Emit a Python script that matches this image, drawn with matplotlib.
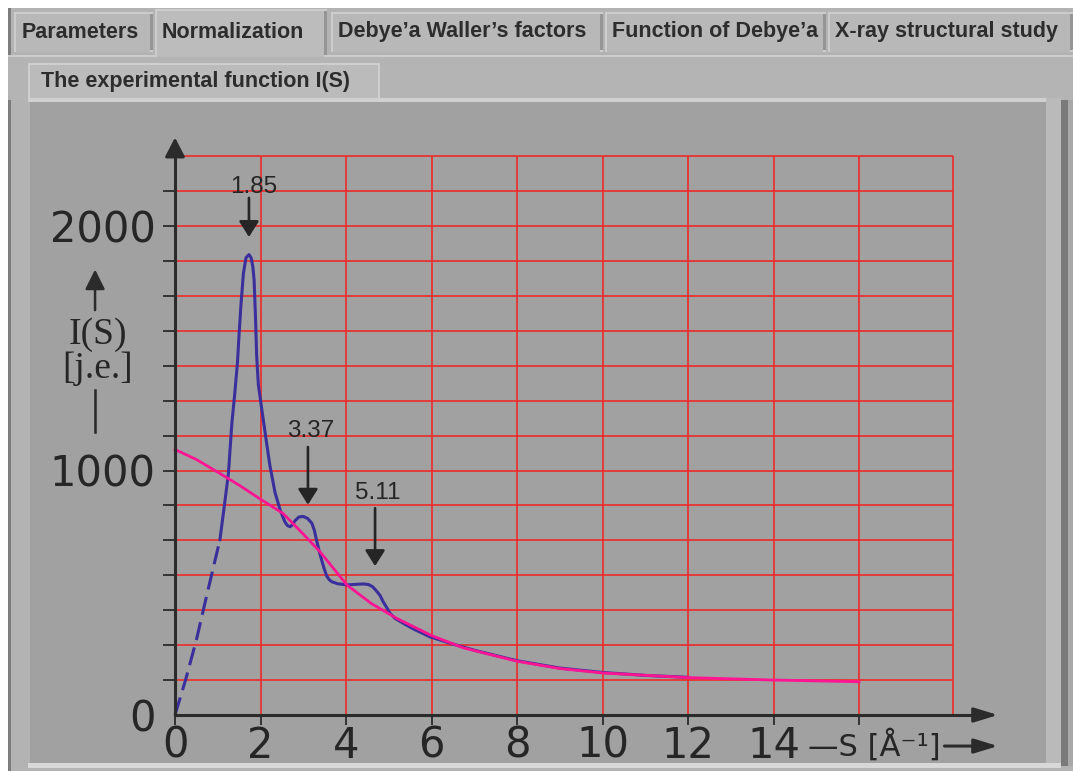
import matplotlib.pyplot as plt
from matplotlib.patches import Rectangle

# measured intensity I(S), dashed extrapolation to the origin
s_dash = [0, 0.25, 0.5, 0.75, 1.05]
i_dash = [0, 145, 307, 495, 716]

# measured intensity I(S), solid part
s_exp = [1.05, 1.15, 1.25, 1.33, 1.39, 1.46, 1.5, 1.54, 1.6, 1.66, 1.73, 1.78, 1.82, 1.85,
         1.88, 1.91, 1.95, 2.03, 2.11, 2.22, 2.34, 2.46, 2.57, 2.63, 2.69, 2.75, 2.81, 2.9,
         3.0, 3.1, 3.2, 3.26, 3.31, 3.37, 3.43, 3.49, 3.55, 3.61, 3.67, 3.8, 4.02, 4.2, 4.4,
         4.52, 4.62, 4.72, 4.8, 4.87, 4.95, 5.03, 5.15, 5.34, 5.6, 5.96, 6.5, 7, 8, 9, 10, 11, 12]
i_exp = [716, 850, 988, 1193, 1300, 1438, 1560, 1670, 1806, 1870, 1883, 1870, 1835, 1780,
         1640, 1470, 1350, 1250, 1152, 1020, 910, 838, 790, 775, 770, 778, 795, 810,
         812, 804, 785, 755, 716, 672, 634, 598, 568, 553, 545, 537, 532, 534, 536,
         534, 525, 506, 488, 463, 440, 416, 395, 375, 350, 320, 290, 265, 222, 192, 174, 162, 154]

# independent scattering curve
s_fit = [0, 0.5, 1.05, 1.5, 1.97, 2.53, 3.0, 3.39, 4.02, 4.6, 5.19, 6, 6.74, 8, 9, 10, 12, 14, 16]
i_fit = [1086, 1045, 988, 940, 886, 824, 740, 668, 532, 455, 395, 325, 275, 220, 190, 172, 153, 143, 136]

peak_labels = ['1.85', '3.37', '5.11']
peak_s = [1.73, 3.11, 4.68]

x_ticks = [0, 2, 4, 6, 8, 10, 12, 14, 16]
x_labels = ['0', '2', '4', '6', '8', '10', '12', '14', '']
y_ticks = [k * 1000 / 7 for k in range(0, 16)]
y_labels = ['0' if k == 0 else '1000' if k == 7 else '2000' if k == 14 else '' for k in range(0, 16)]
y_grid = [k * 1000 / 7 for k in range(1, 17)]
x_grid = [2, 4, 6, 8, 10, 12, 14, 16, 18.2]

tab_names = ['Parameters', 'Normalization', 'Debye’a Waller’s factors',
             'Function of Debye’a', 'X-ray structural study']
sub_tab = 'The experimental function I(S)'

W, H = 1073, 771
plt.rcParams['font.family'] = ['DejaVu Sans']

fig = plt.figure(figsize=(W / 100, H / 100), dpi=100)
fig.patch.set_facecolor('white')
ax = fig.add_axes([0, 0, 1, 1])
ax.set_facecolor('none')

# data <-> pixel mapping: x=0 at 175 px, 42.75 px per unit; y=0 at 715 px, 0.2445 px per unit
ax.set_xlim(-175 / 42.75, (W - 175) / 42.75)
ax.set_ylim((715 - H) / 0.2445, 715 / 0.2445)


def box(x0, y0, x1, y1, color, z=0):
    ax.add_patch(Rectangle((x0 / W, 1 - y1 / H), (x1 - x0) / W, (y1 - y0) / H,
                           transform=ax.transAxes, facecolor=color, edgecolor='none', zorder=z))


def label(x, y, txt, **kw):
    ax.text(x / W, 1 - y / H, txt, transform=ax.transAxes, **kw)


# window / tabs
box(8, 8, W, H, '#b3b3b3')
box(8, 8, 11, H, '#7d7d7d', 0.1)
tab_x = [(14, 153), (155, 327), (331, 603), (605, 826), (828, W)]
for (x0, x1), name in zip(tab_x, tab_names):
    sel = name == 'Normalization'
    top = 9 if sel else 12
    bot = 57 if sel else 52
    box(x0, top, x1, bot, '#cdcdcd', 0.2)
    box(x0 + 2, top + 2, x1 - 3, bot, '#bcbcbc' if sel else '#b8b8b8', 0.3)
    box(x1 - 3, top + 2, x1, bot - 2, '#959595', 0.3)
    label(x0 + 7 if x0 > 20 else 22, 32, name, fontsize=15.5, fontweight='bold',
          color='#2d2d2d', ha='left', va='center', family='Liberation Sans', zorder=5)
box(8, 55, W, 60, '#cccccc', 0.25)
box(8, 57, W, 100, '#b4b4b4', 0.3)
box(28, 63, 380, 100, '#cfcfcf', 0.35)
box(30, 65, 378, 100, '#bbbbbb', 0.4)
label(41, 82, sub_tab, fontsize=15.5, fontweight='bold', color='#2d2d2d',
      ha='left', va='center', family='Liberation Sans', zorder=5)

# plot panel with bevel
box(28, 98, 1048, 102, '#d0d0d0', 0.5)
box(30, 102, 1046, 763, '#a0a1a0', 0.6)
box(1046, 98, 1061, 766, '#bababa', 0.6)
box(1061, 100, 1068, 766, '#7a7a7a', 0.6)
box(1068, 100, W, 766, '#a8a8a8', 0.6)
box(28, 763, 1061, 768, '#d8d8d8', 0.6)

# red grid
ax.hlines(y_grid, 0, x_grid[-1], color='#ee2a2a', lw=1.2, zorder=2)
ax.vlines(x_grid, 0, y_grid[-1], color='#ee2a2a', lw=1.2, zorder=2)

# curves
ax.plot(s_dash, i_dash, color='#3a2f9c', lw=2.2, dashes=(6, 2.5), zorder=3)
ax.plot(s_exp, i_exp, color='#3a2f9c', lw=2.2, zorder=3,
        solid_capstyle='round', solid_joinstyle='round')
ax.plot(s_fit, i_fit, color='#ff1493', lw=2.0, zorder=4, solid_joinstyle='round')

# peak markers
lab_pos = [(1.83, 2160), (3.18, 1160), (4.75, 910)]
arr_y = [(2115, 1955), (1096, 860), (846, 609)]
for txt, s, (tx, ty), (ya, yb) in zip(peak_labels, peak_s, lab_pos, arr_y):
    ax.text(tx, ty, txt, fontsize=17.5, color='#252525', ha='center', va='center',
            family='Liberation Sans', zorder=6)
    ax.annotate('', xy=(s, yb), xytext=(s, ya),
                arrowprops=dict(arrowstyle='-|>,head_length=0.95,head_width=0.6',
                                mutation_scale=10, lw=1.9, color='#252525',
                                shrinkA=0, shrinkB=0), zorder=6)

# axes
for side in ['top', 'right']:
    ax.spines[side].set_visible(False)
ax.spines['left'].set_position(('data', 0))
ax.spines['bottom'].set_position(('data', 0))
ax.spines['left'].set_bounds(0, 2300)
ax.spines['bottom'].set_bounds(0, 18.9)
for side in ['left', 'bottom']:
    ax.spines[side].set_color('#2b2b2b')
    ax.spines[side].set_linewidth(2.2)
    ax.spines[side].set_zorder(5)
arrow_kw = dict(arrowstyle='-|>,head_length=0.58,head_width=0.3', mutation_scale=20,
                lw=2.2, color='#2b2b2b', shrinkA=0, shrinkB=0)
ax.annotate('', xy=(0, 2362), xytext=(0, 2290), arrowprops=arrow_kw, zorder=5)
ax.annotate('', xy=(19.25, 0), xytext=(18.8, 0),
            arrowprops=dict(arrow_kw, arrowstyle='-|>,head_length=0.72,head_width=0.22'), zorder=5)

ax.set_xticks(x_ticks)
ax.set_xticklabels(x_labels)
ax.set_yticks(y_ticks)
ax.set_yticklabels(y_labels)
ax.tick_params(axis='x', direction='out', length=7, width=1.3, color='#2b2b2b',
               labelsize=30, labelcolor='#262626', pad=0)
ax.tick_params(axis='y', direction='out', length=9, width=1.3, color='#2b2b2b',
               labelsize=30, labelcolor='#262626', pad=5)
ax.yaxis.get_major_ticks()[0].tick1line.set_visible(False)

# axis titles
ax.text(14.8, -125, '—S [Å⁻¹]', fontsize=22, color='#262626', ha='left', va='center', zorder=6)
ax.annotate('', xy=(19.25, -127), xytext=(18.0, -127),
            arrowprops=dict(arrow_kw, arrowstyle='-|>,head_length=0.72,head_width=0.22'), zorder=6)
ax.text(-1.8, 1554, 'I(S)', fontsize=27, color='#262626', ha='center', va='center',
        family='Liberation Serif', zorder=6)
ax.text(-1.8, 1418, '[j.e.]', fontsize=27, color='#262626', ha='center', va='center',
        family='Liberation Serif', zorder=6)
ax.annotate('', xy=(-1.87, 1822), xytext=(-1.87, 1656),
            arrowprops=dict(arrow_kw, lw=1.8, arrowstyle='-|>,head_length=0.6,head_width=0.3',
                            mutation_scale=20), zorder=6)
ax.plot([-1.87, -1.87], [1157, 1329], color='#262626', lw=1.8, zorder=6)

fig.savefig('out.png', dpi=100)
